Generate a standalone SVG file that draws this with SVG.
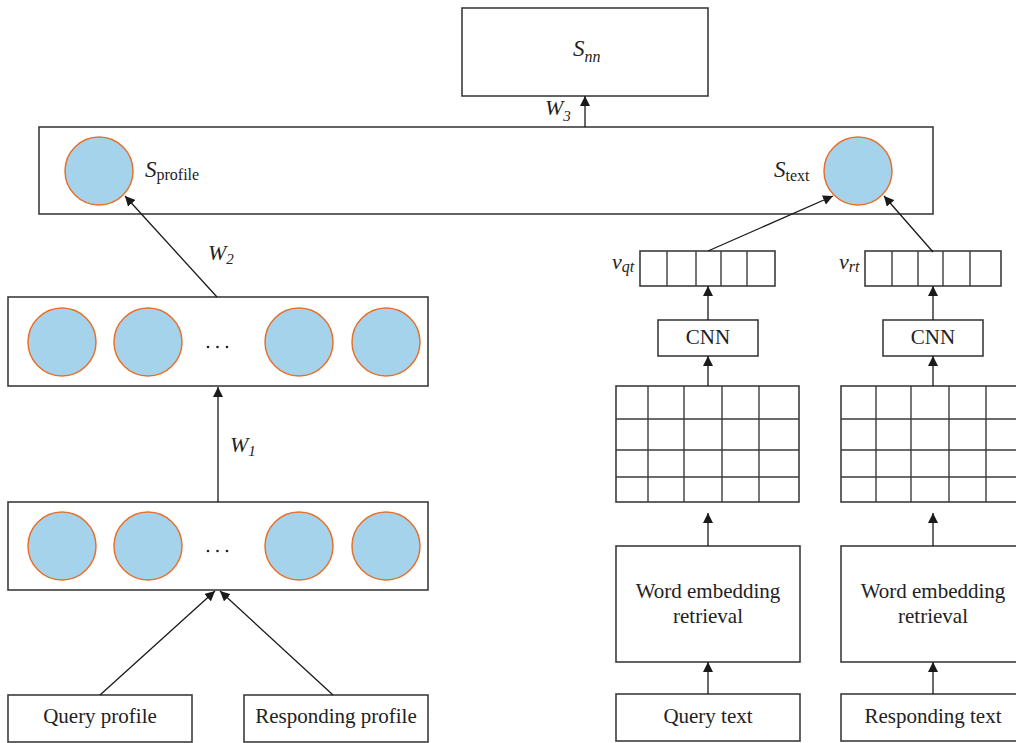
<svg xmlns="http://www.w3.org/2000/svg" width="1016" height="743" viewBox="0 0 1016 743">
<defs>
<marker id="ah" viewBox="0 0 10 10" refX="10" refY="5" markerWidth="10" markerHeight="10" markerUnits="userSpaceOnUse" orient="auto">
<path d="M0,0 L10,5 L0,10 z" fill="#1a1a1a"/>
</marker>
</defs>
<style>
.box{fill:#fff;stroke:#3c3c3c;stroke-width:1.6}
.cell{fill:none;stroke:#3c3c3c;stroke-width:1.4}
.neu{fill:#a5d3ec;stroke:#e8702a;stroke-width:1.5}
.t{font-family:"Liberation Serif",serif;font-size:21px;fill:#222;text-anchor:middle}
.it{font-family:"Liberation Serif",serif;font-style:italic;fill:#222}
.rm{font-family:"Liberation Serif",serif;fill:#222}
.dot{fill:#222}
.edge{stroke:#1a1a1a;stroke-width:1.3;fill:none;marker-end:url(#ah)}
</style>

<g id="snn">
<rect class="box" x="462" y="8" width="246" height="88"/>
<text class="it" x="573" y="56" font-size="23">S<tspan font-size="16" dy="6">nn</tspan></text>
</g>

<g id="merge">
<rect class="box" x="39" y="127" width="894" height="87"/>
<circle class="neu" cx="99" cy="171" r="34"/>
<text x="145" y="177"><tspan class="it" font-size="23">S</tspan><tspan class="rm" font-size="16" dy="3">profile</tspan></text>
<circle class="neu" cx="858" cy="171" r="34"/>
<text x="774" y="177"><tspan class="it" font-size="23">S</tspan><tspan class="rm" font-size="16" dy="4">text</tspan></text>
</g>

<g id="hidden">
<rect class="box" x="8" y="297" width="420" height="89"/>
<circle class="neu" cx="62" cy="342" r="34"/>
<circle class="neu" cx="148" cy="342" r="34"/>
<circle class="neu" cx="299" cy="342" r="34"/>
<circle class="neu" cx="386" cy="342" r="34"/>
<circle class="dot" cx="208" cy="347" r="1.3"/>
<circle class="dot" cx="217.5" cy="347" r="1.3"/>
<circle class="dot" cx="227" cy="347" r="1.3"/>
</g>

<g id="input">
<rect class="box" x="8" y="502" width="420" height="88"/>
<circle class="neu" cx="62" cy="546" r="34"/>
<circle class="neu" cx="148" cy="546" r="34"/>
<circle class="neu" cx="299" cy="546" r="34"/>
<circle class="neu" cx="386" cy="546" r="34"/>
<circle class="dot" cx="208" cy="551" r="1.3"/>
<circle class="dot" cx="217.5" cy="551" r="1.3"/>
<circle class="dot" cx="227" cy="551" r="1.3"/>
</g>

<g id="qprofile">
<rect class="box" x="8" y="695" width="184" height="47"/>
<text class="t" x="100" y="723">Query profile</text>
</g>
<g id="rprofile">
<rect class="box" x="244" y="695" width="184" height="47"/>
<text class="t" x="336" y="723">Responding profile</text>
</g>

<g id="vqt">
<rect class="box" x="640" y="251" width="135" height="35"/>
<path class="cell" d="M667,251V286M696,251V286M721,251V286M747,251V286"/>
<text x="612" y="269"><tspan class="it" font-size="22">v</tspan><tspan class="it" font-size="16" dy="3">qt</tspan></text>
</g>
<g id="vrt">
<rect class="box" x="865" y="251" width="136" height="35"/>
<path class="cell" d="M892,251V286M918,251V286M943,251V286M970,251V286"/>
<text x="839" y="269"><tspan class="it" font-size="22">v</tspan><tspan class="it" font-size="16" dy="3">rt</tspan></text>
</g>

<g id="cnn1">
<rect class="box" x="658" y="320" width="100" height="36"/>
<text class="t" x="708" y="344">CNN</text>
</g>
<g id="cnn2">
<rect class="box" x="883" y="320" width="100" height="36"/>
<text class="t" x="933" y="344">CNN</text>
</g>

<g id="grid1">
<rect class="box" x="616" y="386" width="183" height="116"/>
<path class="cell" d="M648,386V502M684,386V502M722,386V502M759,386V502M616,419H799M616,450H799M616,477H799"/>
</g>
<g id="grid2">
<rect class="box" x="841" y="386" width="183" height="116"/>
<path class="cell" d="M876,386V502M911,386V502M949,386V502M986,386V502M841,419H1024M841,450H1024M841,477H1024"/>
</g>

<g id="we1">
<rect class="box" x="616" y="546" width="184" height="116"/>
<text class="t" x="708" y="598">Word embedding</text>
<text class="t" x="708" y="623">retrieval</text>
</g>
<g id="we2">
<rect class="box" x="841" y="546" width="184" height="116"/>
<text class="t" x="933" y="598">Word embedding</text>
<text class="t" x="933" y="623">retrieval</text>
</g>

<g id="qtext">
<rect class="box" x="616" y="694" width="184" height="47"/>
<text class="t" x="708" y="723">Query text</text>
</g>
<g id="rtext">
<rect class="box" x="841" y="694" width="184" height="47"/>
<text class="t" x="933" y="723">Responding text</text>
</g>

<g id="connectors">
<line class="edge" x1="585" y1="127" x2="585" y2="96"/>
<text x="545" y="115"><tspan class="it" font-size="22">W</tspan><tspan class="it" font-size="15" dy="6">3</tspan></text>
<line class="edge" x1="217" y1="297" x2="125" y2="196"/>
<text x="208" y="260"><tspan class="it" font-size="22">W</tspan><tspan class="it" font-size="15" dy="4">2</tspan></text>
<line class="edge" x1="218" y1="502" x2="218" y2="387"/>
<text x="230" y="452"><tspan class="it" font-size="22">W</tspan><tspan class="it" font-size="15" dy="4">1</tspan></text>
<line class="edge" x1="100" y1="695" x2="215" y2="591"/>
<line class="edge" x1="333" y1="695" x2="220" y2="591"/>
<line class="edge" x1="708" y1="251" x2="833" y2="196"/>
<line class="edge" x1="933" y1="252" x2="884" y2="196"/>
<line class="edge" x1="708" y1="320" x2="708" y2="286"/>
<line class="edge" x1="933" y1="320" x2="933" y2="286"/>
<line class="edge" x1="708" y1="386" x2="708" y2="356"/>
<line class="edge" x1="933" y1="386" x2="933" y2="356"/>
<line class="edge" x1="708" y1="546" x2="708" y2="513"/>
<line class="edge" x1="933" y1="546" x2="933" y2="513"/>
<line class="edge" x1="708" y1="694" x2="708" y2="662"/>
<line class="edge" x1="933" y1="694" x2="933" y2="662"/>
</g>
</svg>
